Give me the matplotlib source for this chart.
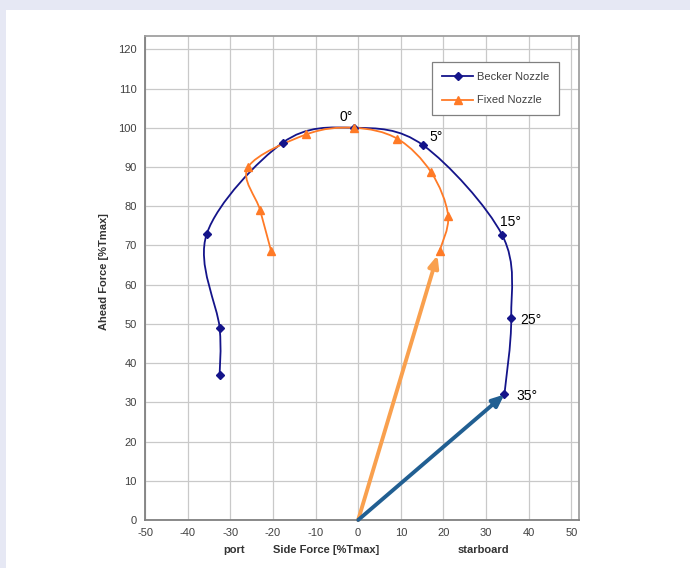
import numpy as np
import matplotlib.pyplot as plt
from matplotlib.path import Path
from matplotlib.patches import PathPatch, Rectangle
from matplotlib.lines import Line2D
import matplotlib.transforms as mtransforms

plt.rcParams['font.family'] = ['Liberation Sans', 'DejaVu Sans']
plt.rcParams['axes.unicode_minus'] = False

# ---------- data ----------
becker_x = [-32.5, -32.5, -35.5, -17.7, -1.0, 15.3, 33.8, 35.9, 34.3]
becker_y = [37.0, 49.0, 73.0, 96.2, 100.0, 95.5, 72.6, 51.6, 32.0]
fixed_x = [-20.4, -23.0, -25.8, -12.2, -1.0, 9.2, 17.1, 21.1, 19.1]
fixed_y = [68.5, 79.0, 90.0, 98.3, 100.0, 97.2, 88.7, 77.6, 68.6]

angle_labels = ["0°", "5°", "15°", "25°", "35°"]
angle_x = [-2.9, 18.4, 35.7, 40.6, 39.7]
angle_y = [102.7, 97.6, 75.9, 51.0, 31.6]

arrow_fixed = (18.6, 67.5)
arrow_becker = (34.3, 32.0)

BLUE = "#14148a"
ORANGE = "#ff7a26"


def smooth_path(xs, ys):
    # Excel-style smoothed line: cubic bezier segments, tension 1/6
    pts = np.column_stack([xs, ys])
    n = len(pts)
    verts = [pts[0]]
    codes = [Path.MOVETO]
    for i in range(n - 1):
        p0 = pts[i - 1] if i > 0 else pts[i]
        p1, p2 = pts[i], pts[i + 1]
        p3 = pts[i + 2] if i + 2 < n else pts[i + 1]
        c1 = p1 + (p2 - p0) / 6.0
        c2 = p2 - (p3 - p1) / 6.0
        verts += [c1, c2, p2]
        codes += [Path.CURVE4] * 3
    return Path(verts, codes)


fig = plt.figure(figsize=(6.9, 5.68), dpi=100, facecolor="#e6e8f4")
bg = Rectangle((6 / 690, 0), 1, 1 - 10 / 568, transform=fig.transFigure,
               facecolor="white", edgecolor="none", zorder=-10)
fig.add_artist(bg)
ax = fig.add_axes([145 / 690, 48 / 568, 434 / 690, 484 / 568])
ax.set_zorder(1)
ax.set_facecolor("white")

ax.set_xlim(-50, 51.8)
ax.set_ylim(0, 123.4)
ax.set_xticks(np.arange(-50, 51, 10))
ax.set_yticks(np.arange(0, 121, 10))
ax.grid(True, color="#c9c9c9", linewidth=0.9)
ax.set_axisbelow(True)
ax.tick_params(length=0, labelsize=8, labelcolor="#404040", pad=6)
for s in ax.spines.values():
    s.set_color("#a0a0a0")
    s.set_linewidth(1.3)
ax.spines["bottom"].set_color("#808080")
ax.spines["left"].set_color("#808080")

# smoothed curves
ax.add_patch(PathPatch(smooth_path(becker_x, becker_y), facecolor="none",
                       edgecolor=BLUE, linewidth=1.3, zorder=3))
ax.add_patch(PathPatch(smooth_path(fixed_x, fixed_y), facecolor="none",
                       edgecolor=ORANGE, linewidth=1.3, zorder=3))
ax.plot(becker_x, becker_y, linestyle="none", marker="D", markersize=4.5,
        color=BLUE, zorder=4)
ax.plot(fixed_x, fixed_y, linestyle="none", marker="^", markersize=6,
        color=ORANGE, zorder=4)

# force arrows
ax.annotate("", xy=arrow_fixed, xytext=(0, 0),
            arrowprops=dict(arrowstyle="-|>,head_length=0.7,head_width=0.3",
                            color="#f9a04e", linewidth=2.8, shrinkA=0, shrinkB=0),
            zorder=5)
ax.annotate("", xy=arrow_becker, xytext=(0, 0),
            arrowprops=dict(arrowstyle="-|>,head_length=0.7,head_width=0.3",
                            color="#215f92", linewidth=2.8, shrinkA=0, shrinkB=0),
            zorder=5)

for lab, x, y in zip(angle_labels, angle_x, angle_y):
    ax.text(x, y, lab, ha="center", va="center", fontsize=10, color="black", zorder=6)

# legend
handles = [
    Line2D([], [], color=BLUE, marker="D", markersize=4, linewidth=1.3),
    Line2D([], [], color=ORANGE, marker="^", markersize=5.5, linewidth=1.3),
]
leg = ax.legend(handles, ["Becker Nozzle", "Fixed Nozzle"], loc="upper right",
                bbox_to_anchor=(0.954, 0.946), fontsize=8, fancybox=False,
                framealpha=1, edgecolor="#808080", labelspacing=1.2,
                handlelength=2.8, handletextpad=0.3, borderpad=0.9,
                borderaxespad=0)
for t in leg.get_texts():
    t.set_color("#404040")
leg.get_frame().set_linewidth(0.9)

# axis labels
trans = mtransforms.blended_transform_factory(ax.transData, ax.transAxes)
ax.text(-29.1, -0.062, "port", transform=trans, ha="center", va="center",
        fontsize=8, fontweight="bold", color="#333333")
ax.text(-7.6, -0.062, "Side Force [%Tmax]", transform=trans, ha="center", va="center",
        fontsize=8, fontweight="bold", color="#333333")
ax.text(29.4, -0.062, "starboard", transform=trans, ha="center", va="center",
        fontsize=8, fontweight="bold", color="#333333")
fig.text(104 / 690, 1 - 272 / 568, "Ahead Force [%Tmax]", rotation=90, ha="center",
         va="center", fontsize=8, fontweight="bold", color="#333333")

fig.savefig("out.png", dpi=100, facecolor=fig.get_facecolor())
